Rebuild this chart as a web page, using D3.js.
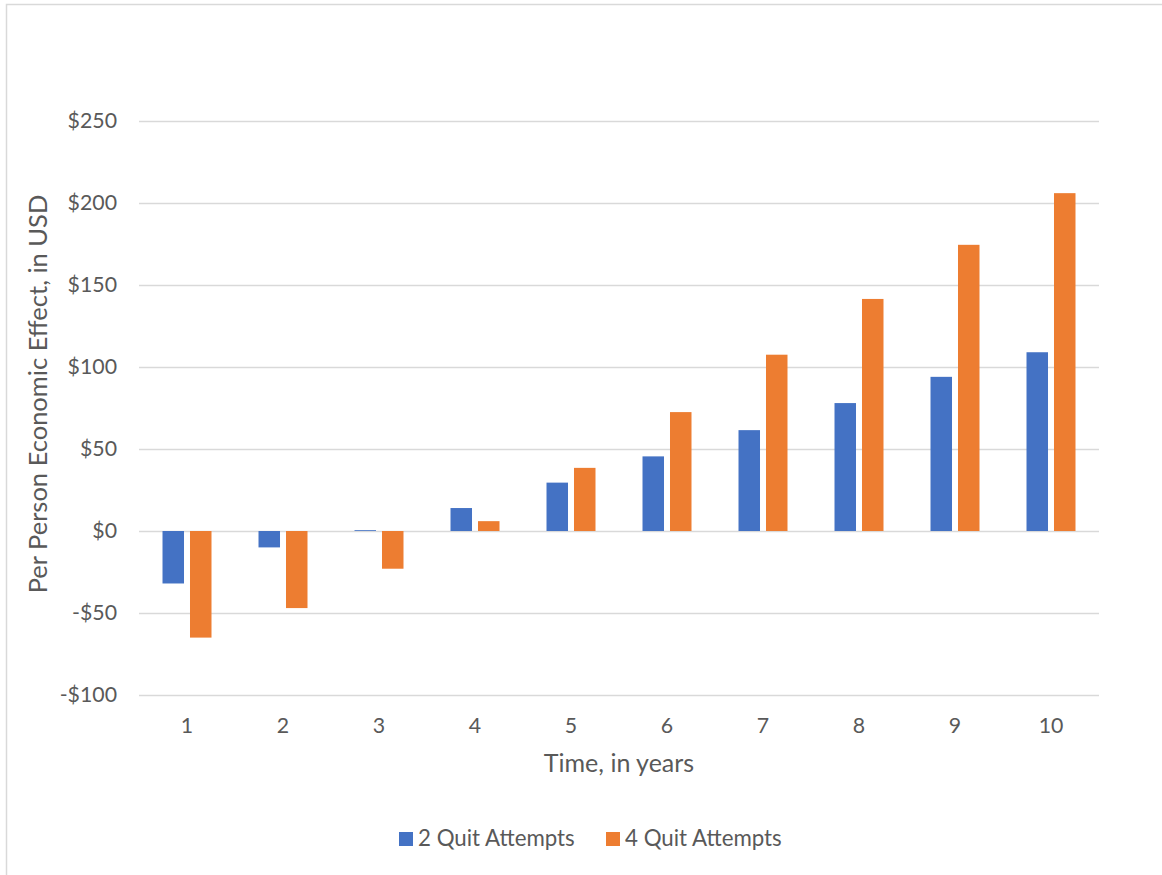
<!DOCTYPE html>
<html>
<head>
<meta charset="utf-8">
<script src="https://cdn.jsdelivr.net/npm/d3@7"></script>
<style>
  html, body { margin: 0; padding: 0; background: #fff; }
  svg { display: block; font-family: Lato, "Open Sans", sans-serif; }
</style>
</head>
<body>
<svg id="chart" width="1162" height="875"></svg>
<script>
// Per-person economic effect by year, for two quit-attempt scenarios
const years = ["1", "2", "3", "4", "5", "6", "7", "8", "9", "10"];
const seriesNames = ["2 Quit Attempts", "4 Quit Attempts"];
const twoAttempts = [-32, -10, 0.5, 14, 29.5, 45.5, 61.5, 78, 94, 109];
const fourAttempts = [-65, -47, -23, 6, 38.5, 72.5, 107.5, 141.5, 174.5, 206];
const yTicks = [-100, -50, 0, 50, 100, 150, 200, 250];
const colors = ["#4472C4", "#ED7D31"];

const svg = d3.select("#chart");
const W = 1162, H = 875;
const plot = { left: 139, right: 1099, top: 121, bottom: 695 };
const textColor = "#595959";
const gridColor = "#D9D9D9";

// Outer chart frame (left and top edges visible)
svg.append("rect")
  .attr("x", 6.5).attr("y", 4.5)
  .attr("width", W + 10).attr("height", H + 10)
  .attr("fill", "#fff").attr("stroke", gridColor).attr("stroke-width", 1.5);

const y = d3.scaleLinear().domain([-100, 250]).range([plot.bottom, plot.top]);
const x0 = d3.scaleBand().domain(years).range([plot.left, plot.right]).padding(0);
const x1 = d3.scaleBand().domain(seriesNames).range([0, x0.bandwidth()])
  .paddingInner(0.218).paddingOuter(0.855);

// Horizontal gridlines and dollar tick labels
const yAxis = d3.axisLeft(y)
  .tickValues(yTicks)
  .tickSize(-(plot.right - plot.left))
  .tickPadding(22)
  .tickFormat(d => (d < 0 ? "-$" : "$") + Math.abs(d));
const gy = svg.append("g").attr("transform", `translate(${plot.left},0)`).call(yAxis);
gy.select(".domain").remove();
gy.selectAll(".tick line").attr("stroke", gridColor).attr("stroke-width", 1.5);
gy.selectAll(".tick text").attr("fill", textColor).attr("font-size", 21.3)
  .attr("font-family", "Lato, sans-serif");

// Bars
const rows = years.map((yr, i) => ({ year: yr, values: [twoAttempts[i], fourAttempts[i]] }));
const groups = svg.append("g").selectAll("g").data(rows).join("g")
  .attr("transform", d => `translate(${x0(d.year)},0)`);
groups.selectAll("rect")
  .data(d => d.values.map((v, k) => ({ key: seriesNames[k], value: v, k })))
  .join("rect")
  .attr("x", d => x1(d.key))
  .attr("width", x1.bandwidth())
  .attr("y", d => y(Math.max(0, d.value)))
  .attr("height", d => Math.abs(y(d.value) - y(0)))
  .attr("fill", d => colors[d.k]);

// Category axis labels
const xAxis = d3.axisBottom(x0).tickSize(0).tickPadding(23);
const gx = svg.append("g").attr("transform", `translate(0,${plot.bottom})`).call(xAxis);
gx.select(".domain").remove();
gx.selectAll(".tick text").attr("fill", textColor).attr("font-size", 21.3)
  .attr("font-family", "Lato, sans-serif");

// Axis titles
svg.append("text")
  .attr("x", (plot.left + plot.right) / 2).attr("y", 772)
  .attr("text-anchor", "middle").attr("fill", textColor).attr("font-size", 25)
  .text("Time, in years");
svg.append("text")
  .attr("transform", `translate(47,${(plot.top + plot.bottom) / 2 - 14}) rotate(-90)`)
  .attr("text-anchor", "middle").attr("fill", textColor).attr("font-size", 25.5)
  .text("Per Person Economic Effect, in USD");

// Legend
const legendItems = [{ name: seriesNames[0], x: 399 }, { name: seriesNames[1], x: 606 }];
const lg = svg.append("g").selectAll("g").data(legendItems).join("g")
  .attr("transform", d => `translate(${d.x},832)`);
lg.append("rect").attr("width", 14).attr("height", 14)
  .attr("fill", (d, i) => colors[i]);
lg.append("text").attr("x", 19).attr("y", 13.5)
  .attr("fill", textColor).attr("font-size", 22.3)
  .text(d => d.name);
</script>
</body>
</html>
